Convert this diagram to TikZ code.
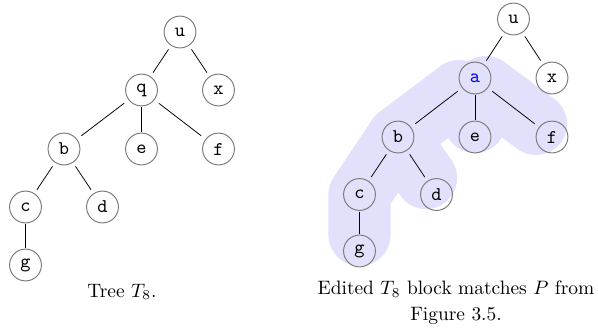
\documentclass[tikz,border=0pt]{standalone}
\usepackage{tikz}

\begin{document}
\begin{tikzpicture}[x=0.515pt, y=-0.515pt]

% Colori
\definecolor{colHl}{HTML}{E1E1FB}
\definecolor{lineGray}{HTML}{7A7A7A}

\tikzset{
  vertice/.style={rectangle, minimum size=17.5pt, inner sep=0pt, font=\ttfamily,
    path picture={\draw[lineGray, line width=0.5pt] (path picture bounding box.center) circle (8.2pt);}},
  ramo/.style={line width=0.4pt},
  blocco/.style={colHl, line width=32pt, line cap=round, line join=round},
}

\useasboundingbox (0,0) rectangle (598,327);

% Albero di sinistra
\node[vertice] (lu) at (180,32) {u};
\node[vertice] (lq) at (141.5,90) {q};
\node[vertice] (lx) at (218.5,90) {x};
\node[vertice] (lb) at (64,149) {b};
\node[vertice] (le) at (141.5,149) {e};
\node[vertice] (lf) at (218.5,149) {f};
\node[vertice] (lc) at (25.5,207) {c};
\node[vertice] (ld) at (102.5,207) {d};
\node[vertice] (lg) at (25.5,265) {g};

\draw[ramo] (lu) -- (lq);
\draw[ramo] (lu) -- (lx);
\draw[ramo] (lq) -- (lb);
\draw[ramo] (lq) -- (le);
\draw[ramo] (lq) -- (lf);
\draw[ramo] (lb) -- (lc);
\draw[ramo] (lb) -- (ld);
\draw[ramo] (lc) -- (lg);

\node[anchor=base] (capL) at (122,297) {Tree $T_8$.};

% Albero di destra, blocco evidenziato sotto
\coordinate (rb0) at (398,137);
\coordinate (rc0) at (359.5,194.5);
\draw[blocco] (459,91) -- (rb0) -- (rc0) -- (359.5,235);
\draw[blocco] (486,87) -- (536,124);
\draw[blocco] (475,91) -- (475,122);
\draw[blocco] (rb0) -- (426,178);

\node[vertice] (ru) at (513.5,19) {u};
\node[vertice] (ra) at (475,78) {\textcolor{blue}{a}};
\node[vertice] (rx) at (552,78) {x};
\node[vertice] (rb) at (rb0) {b};
\node[vertice] (re) at (475,137) {e};
\node[vertice] (rf) at (552,137) {f};
\node[vertice] (rc) at (rc0) {c};
\node[vertice] (rd) at (436.5,194.5) {d};
\node[vertice] (rg) at (359.5,251) {g};

\draw[ramo] (ru) -- (ra);
\draw[ramo] (ru) -- (rx);
\draw[ramo] (ra) -- (rb);
\draw[ramo] (ra) -- (re);
\draw[ramo] (ra) -- (rf);
\draw[ramo] (rb) -- (rc);
\draw[ramo] (rb) -- (rd);
\draw[ramo] (rc) -- (rg);

\node[anchor=north, align=center, inner sep=0pt] (capR) at (456,280)
  {Edited $T_8$ block matches $P$ from\\[1.5pt]Figure 3.5.};

\end{tikzpicture}
\end{document}
